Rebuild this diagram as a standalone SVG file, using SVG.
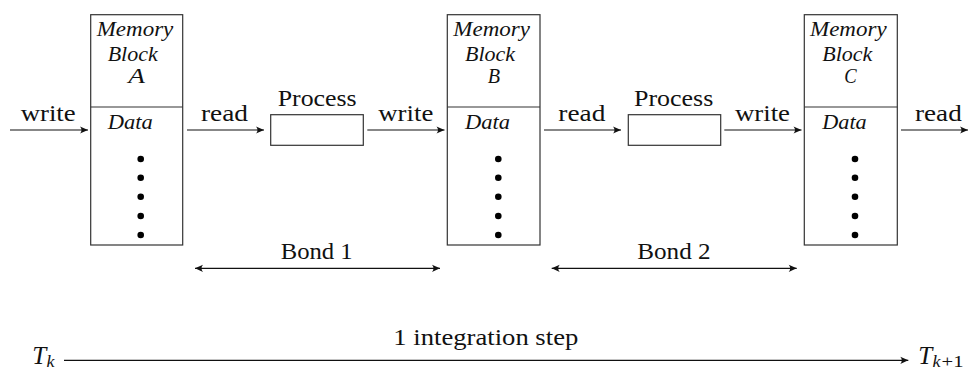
<svg xmlns="http://www.w3.org/2000/svg" width="977" height="371" viewBox="0 0 977 371">
<defs>
<marker id="ah" viewBox="-9 -5 10 10" refX="0" refY="0" markerWidth="10" markerHeight="10" markerUnits="userSpaceOnUse" orient="auto-start-reverse">
<path d="M0,0 L-8,-3.6 Q-5,0 -8,3.6 Z" fill="#111"/>
</marker>
<style>
.box{fill:#fff;stroke:#333;stroke-width:1.2}
.ln{stroke:#111;stroke-width:1.2;fill:none}
text{font-family:'Liberation Serif','Times New Roman',Times,serif;fill:#111}
.t{font-size:23px}
.i{font-size:21px;font-style:italic}
.m{font-size:26px;font-style:italic}
.s{font-size:17px;font-style:italic}
.sn{font-size:17px;font-style:normal}
.dot{fill:#000}
</style>
</defs>
<rect width="977" height="371" fill="#fff"/>

<g id="blockA">
<rect class="box" x="90.7" y="14.7" width="92" height="230.3"/>
<line class="box" x1="90.7" y1="107" x2="182.7" y2="107"/>
<text class="i" x="96.7" y="35.5" textLength="76.6" lengthAdjust="spacingAndGlyphs">Memory</text>
<text class="i" x="107.7" y="60.7" textLength="50" lengthAdjust="spacingAndGlyphs">Block</text>
<text class="i" x="128.3" y="83.3" textLength="16.7" lengthAdjust="spacingAndGlyphs">A</text>
<text class="i" x="107.7" y="129.3" textLength="45" lengthAdjust="spacingAndGlyphs">Data</text>
<circle class="dot" cx="140.7" cy="159" r="3.3"/>
<circle class="dot" cx="140.7" cy="177.7" r="3.3"/>
<circle class="dot" cx="140.7" cy="196.7" r="3.3"/>
<circle class="dot" cx="140.7" cy="216" r="3.3"/>
<circle class="dot" cx="140.7" cy="235" r="3.3"/>
</g>

<g id="blockB">
<rect class="box" x="447.3" y="14.7" width="92.7" height="230.3"/>
<line class="box" x1="447.3" y1="107" x2="540" y2="107"/>
<text class="i" x="453.3" y="35.5" textLength="76.6" lengthAdjust="spacingAndGlyphs">Memory</text>
<text class="i" x="465" y="60.7" textLength="50" lengthAdjust="spacingAndGlyphs">Block</text>
<text class="i" x="487.7" y="83.3" textLength="12.3" lengthAdjust="spacingAndGlyphs">B</text>
<text class="i" x="465" y="129.3" textLength="45" lengthAdjust="spacingAndGlyphs">Data</text>
<circle class="dot" cx="498.3" cy="159" r="3.3"/>
<circle class="dot" cx="498.3" cy="177.7" r="3.3"/>
<circle class="dot" cx="498.3" cy="196.7" r="3.3"/>
<circle class="dot" cx="498.3" cy="216" r="3.3"/>
<circle class="dot" cx="498.3" cy="235" r="3.3"/>
</g>

<g id="blockC">
<rect class="box" x="804.3" y="14.7" width="93" height="230.3"/>
<line class="box" x1="804.3" y1="107" x2="897.3" y2="107"/>
<text class="i" x="810" y="35.5" textLength="76.6" lengthAdjust="spacingAndGlyphs">Memory</text>
<text class="i" x="822.3" y="60.7" textLength="50" lengthAdjust="spacingAndGlyphs">Block</text>
<text class="i" x="844.3" y="83.3" textLength="12.4" lengthAdjust="spacingAndGlyphs">C</text>
<text class="i" x="822.3" y="129.3" textLength="44.4" lengthAdjust="spacingAndGlyphs">Data</text>
<circle class="dot" cx="855" cy="159" r="3.3"/>
<circle class="dot" cx="855" cy="177.7" r="3.3"/>
<circle class="dot" cx="855" cy="196.7" r="3.3"/>
<circle class="dot" cx="855" cy="216" r="3.3"/>
<circle class="dot" cx="855" cy="235" r="3.3"/>
</g>

<g id="process1">
<rect class="box" x="270.7" y="114.7" width="92.6" height="30.6"/>
<text class="t" x="277.7" y="106" textLength="79" lengthAdjust="spacingAndGlyphs">Process</text>
</g>

<g id="process2">
<rect class="box" x="628.3" y="114.7" width="92.4" height="30.6"/>
<text class="t" x="634" y="106" textLength="79.3" lengthAdjust="spacingAndGlyphs">Process</text>
</g>

<g id="connectors">
<line class="ln" x1="10" y1="130" x2="88" y2="130" marker-end="url(#ah)"/>
<line class="ln" x1="187" y1="130" x2="264" y2="130" marker-end="url(#ah)"/>
<line class="ln" x1="367.3" y1="130" x2="444.5" y2="130" marker-end="url(#ah)"/>
<line class="ln" x1="544" y1="130" x2="621" y2="130" marker-end="url(#ah)"/>
<line class="ln" x1="724.3" y1="130" x2="801.5" y2="130" marker-end="url(#ah)"/>
<line class="ln" x1="901" y1="130" x2="968" y2="130" marker-end="url(#ah)"/>
<line class="ln" x1="195" y1="268.3" x2="440" y2="268.3" marker-start="url(#ah)" marker-end="url(#ah)"/>
<line class="ln" x1="551.7" y1="268.3" x2="796.7" y2="268.3" marker-start="url(#ah)" marker-end="url(#ah)"/>
<line class="ln" x1="64" y1="360.3" x2="908.3" y2="360.3" marker-end="url(#ah)"/>
<text class="t" x="20.7" y="120.7" textLength="55" lengthAdjust="spacingAndGlyphs">write</text>
<text class="t" x="201" y="120.7" textLength="47" lengthAdjust="spacingAndGlyphs">read</text>
<text class="t" x="378.3" y="120.7" textLength="55" lengthAdjust="spacingAndGlyphs">write</text>
<text class="t" x="558.3" y="120.7" textLength="47" lengthAdjust="spacingAndGlyphs">read</text>
<text class="t" x="735" y="120.7" textLength="55" lengthAdjust="spacingAndGlyphs">write</text>
<text class="t" x="915" y="120.7" textLength="46.7" lengthAdjust="spacingAndGlyphs">read</text>
<text class="t" x="280.7" y="259" textLength="72" lengthAdjust="spacingAndGlyphs">Bond 1</text>
<text class="t" x="637.3" y="259" textLength="73.3" lengthAdjust="spacingAndGlyphs">Bond 2</text>
<text class="t" x="393.3" y="345" textLength="185" lengthAdjust="spacingAndGlyphs">1 integration step</text>
</g>

<g id="timeLabels">
<text class="m" x="32.3" y="364" textLength="14" lengthAdjust="spacingAndGlyphs">T</text>
<text class="s" x="46.5" y="367" textLength="8" lengthAdjust="spacingAndGlyphs">k</text>
<text class="m" x="918.3" y="364" textLength="14" lengthAdjust="spacingAndGlyphs">T</text>
<text class="s" x="932.5" y="367" textLength="8" lengthAdjust="spacingAndGlyphs">k</text>
<text class="sn" x="941.5" y="367" textLength="22" lengthAdjust="spacingAndGlyphs">+1</text>
</g>
</svg>
